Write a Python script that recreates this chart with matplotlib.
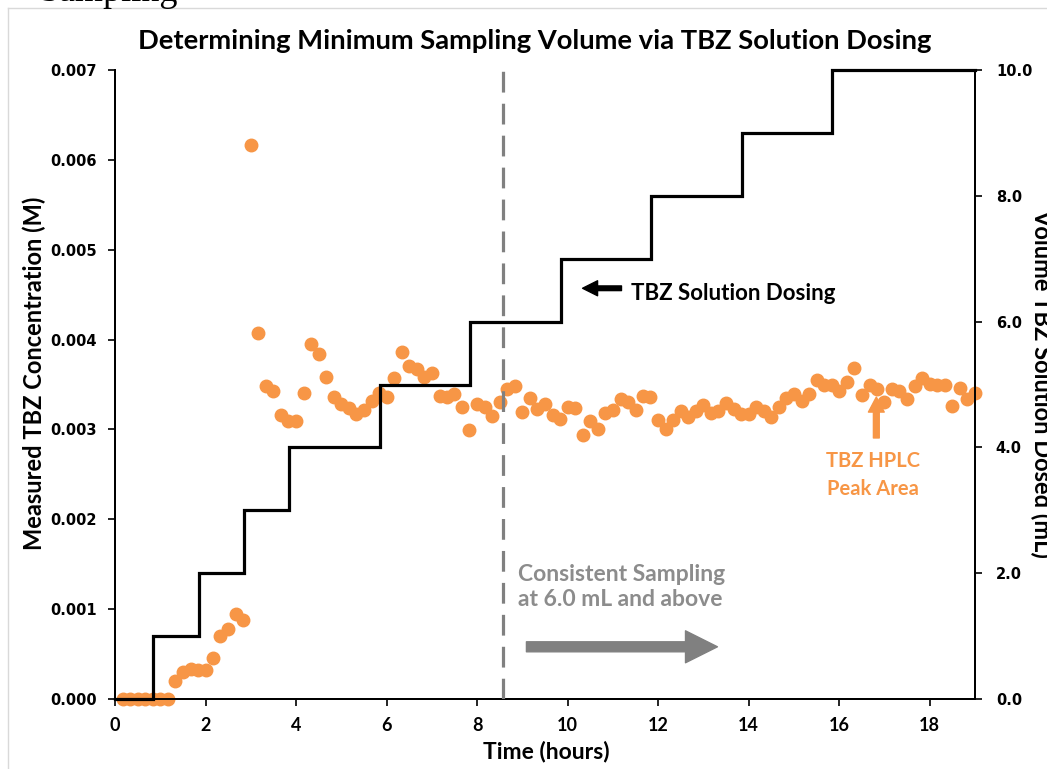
import matplotlib
matplotlib.use("Agg")
import matplotlib.pyplot as plt
from matplotlib.lines import Line2D
from matplotlib.ticker import FormatStrFormatter, MultipleLocator

# ---------------- data ----------------
time_h = [
    0.17, 0.33, 0.50, 0.67, 0.83, 1.00,
    1.17, 1.33, 1.50, 1.67, 1.83, 2.00,
    2.17, 2.33, 2.50, 2.67, 2.83, 3.00,
    3.17, 3.33, 3.50, 3.67, 3.83, 4.00,
    4.17, 4.33, 4.50, 4.67, 4.83, 5.00,
    5.17, 5.33, 5.50, 5.67, 5.83, 6.00,
    6.17, 6.33, 6.50, 6.67, 6.83, 7.00,
    7.17, 7.33, 7.50, 7.67, 7.83, 8.00,
    8.17, 8.33, 8.50, 8.67, 8.83, 9.00,
    9.17, 9.33, 9.50, 9.67, 9.83, 10.00,
    10.17, 10.33, 10.50, 10.67, 10.83, 11.00,
    11.17, 11.33, 11.50, 11.67, 11.83, 12.00,
    12.17, 12.33, 12.50, 12.67, 12.83, 13.00,
    13.17, 13.33, 13.50, 13.67, 13.83, 14.00,
    14.17, 14.33, 14.50, 14.67, 14.83, 15.00,
    15.17, 15.33, 15.50, 15.67, 15.83, 16.00,
    16.17, 16.33, 16.50, 16.67, 16.83, 17.00,
    17.17, 17.33, 17.50, 17.67, 17.83, 18.00,
    18.17, 18.33, 18.50, 18.67, 18.83, 19.00,
]
tbz_conc_M = [
    0.0, 0.0, 0.0, 0.0, 0.0, 0.0,
    0.0, 0.00020, 0.00030, 0.00033, 0.00032, 0.00032,
    0.00046, 0.00070, 0.00078, 0.00095, 0.00088, 0.00617,
    0.00407, 0.00348, 0.00343, 0.00316, 0.00309, 0.00309,
    0.00341, 0.00395, 0.00384, 0.00358, 0.00336, 0.00328,
    0.00324, 0.00317, 0.00322, 0.00332, 0.00340, 0.00336,
    0.00357, 0.00386, 0.00371, 0.00367, 0.00358, 0.00363,
    0.00337, 0.00336, 0.00339, 0.00325, 0.00299, 0.00328,
    0.00325, 0.00315, 0.00330, 0.00345, 0.00348, 0.00319,
    0.00335, 0.00323, 0.00328, 0.00316, 0.00312, 0.00325,
    0.00324, 0.00294, 0.00309, 0.00300, 0.00318, 0.00322,
    0.00334, 0.00331, 0.00322, 0.00337, 0.00336, 0.00311,
    0.00300, 0.00310, 0.00320, 0.00314, 0.00320, 0.00327,
    0.00318, 0.00321, 0.00329, 0.00323, 0.00317, 0.00317,
    0.00325, 0.00321, 0.00314, 0.00325, 0.00335, 0.00339,
    0.00332, 0.00339, 0.00355, 0.00350, 0.00350, 0.00343,
    0.00353, 0.00368, 0.00338, 0.00349, 0.00345, 0.00331,
    0.00345, 0.00343, 0.00334, 0.00348, 0.00357, 0.00351,
    0.00349, 0.00349, 0.00326, 0.00346, 0.00334, 0.00340,
]
dose_time_h = [0.0, 0.85, 1.85, 2.85, 3.85, 5.85, 7.85, 9.85, 11.85, 13.85, 15.85, 19.0]
dose_volume_mL = [0, 1, 2, 3, 4, 5, 6, 7, 8, 9, 10, 10]
consistent_start_h = 8.57

x_ticks = [0, 2, 4, 6, 8, 10, 12, 14, 16, 18]

# ---------------- styling ----------------
ORANGE = "#F79646"
GRAY = "#8C8C8C"
BOLD_FAM = ["Lato", "DejaVu Sans"]
NARROW_FAM = ["Liberation Sans Narrow", "Lato", "DejaVu Sans"]
TICK_FAM = ["DejaVu Sans"]

fig = plt.figure(figsize=(10.47, 7.69), dpi=100)
W, H = 1047, 769
ax = fig.add_axes([115 / W, 1 - 699 / H, (975 - 115) / W, (699 - 70) / H])
ax2 = ax.twinx()

# scatter (primary axis)
ax.plot(time_h, tbz_conc_M, linestyle="none", marker="o", markersize=9,
        markerfacecolor=ORANGE, markeredgecolor=ORANGE, clip_on=False, zorder=3)

# step (secondary axis)
ax2.step(dose_time_h, dose_volume_mL, where="post", color="black", lw=2.3,
         solid_joinstyle="miter", clip_on=False, zorder=4)
ax2.axvline(consistent_start_h, color="#808080", lw=2.3, dashes=(6.5, 3.5), zorder=5)

ax.set_xlim(0, 19)
ax.set_ylim(0, 0.007)
ax2.set_ylim(0, 10)
ax.set_xticks(x_ticks)
ax.yaxis.set_major_locator(MultipleLocator(0.001))
ax.yaxis.set_major_formatter(FormatStrFormatter("%.3f"))
ax2.yaxis.set_major_locator(MultipleLocator(2))
ax2.yaxis.set_major_formatter(FormatStrFormatter("%.1f"))

for a in (ax, ax2):
    a.spines["top"].set_visible(False)
    for s in ("left", "right", "bottom"):
        a.spines[s].set_linewidth(1.4)
        a.spines[s].set_color("black")
ax.tick_params(axis="both", direction="out", length=5, width=1.2, colors="black")
ax2.tick_params(axis="y", direction="out", length=5, width=1.2, colors="black")
ax.tick_params(axis="x", pad=8)
ax.tick_params(axis="y", pad=8)
ax2.tick_params(axis="y", pad=10)

for lab in ax.get_yticklabels():
    lab.set_fontfamily(TICK_FAM)
    lab.set_fontweight("bold")
    lab.set_fontsize(10.5)
for lab in ax2.get_yticklabels():
    lab.set_fontfamily(TICK_FAM)
    lab.set_fontweight("bold")
    lab.set_fontsize(10.5)
for lab in ax.get_xticklabels():
    lab.set_fontfamily(NARROW_FAM)
    lab.set_fontweight("bold")
    lab.set_fontsize(13)

# axis labels
fig.text(546 / W, 1 - 752 / H, "Time (hours)", ha="center", va="center",
         fontsize=16.5, fontweight="bold", family=NARROW_FAM)
fig.text(34 / W, 1 - 373 / H, "Measured TBZ Concentration (M)", ha="center", va="center",
         rotation=90, fontsize=17, fontweight="bold", family=NARROW_FAM)
fig.text(1042 / W, 1 - 383 / H, "Volume TBZ Solution Dosed (mL)", ha="center", va="center",
         rotation=270, fontsize=17, fontweight="bold", family=NARROW_FAM)

# title
fig.text(535 / W, 1 - 41 / H, "Determining Minimum Sampling Volume via TBZ Solution Dosing",
         ha="center", va="center", fontsize=19.7, fontweight="bold", family=BOLD_FAM)

# cut-off document text above the chart frame
fig.text(40 / W, 1 - 1 / H, "Sampling", ha="left", va="baseline", fontsize=26,
         family=["Liberation Serif", "DejaVu Serif"], color="black")

# chart frame
fig.add_artist(Line2D([8 / W, 8 / W], [0, 1 - 8 / H], transform=fig.transFigure,
                      color="#D9D9D9", lw=1.0))
fig.add_artist(Line2D([8 / W, 1], [1 - 8 / H, 1 - 8 / H], transform=fig.transFigure,
                      color="#D9D9D9", lw=1.0))

# annotations (secondary-axis coordinates: volume)
ax2.annotate("", xy=(10.33, 6.53), xytext=(11.19, 6.53),
             arrowprops=dict(arrowstyle="simple,head_length=0.9,head_width=0.9,tail_width=0.28",
                             mutation_scale=12, color="black", shrinkA=0, shrinkB=0))
ax2.text(11.41, 6.45, "TBZ Solution Dosing", ha="left", va="center",
         fontsize=16, fontweight="bold", family=BOLD_FAM, color="black")

ax2.annotate("", xy=(16.82, 4.80), xytext=(16.82, 4.15),
             arrowprops=dict(arrowstyle="simple,head_length=0.9,head_width=0.95,tail_width=0.35",
                             mutation_scale=12, color=ORANGE, shrinkA=0, shrinkB=0))
ax2.text(16.75, 3.56, "TBZ HPLC\nPeak Area", ha="center", va="center",
         fontsize=14.5, fontweight="bold", family=BOLD_FAM, color=ORANGE, linespacing=1.45)

ax2.text(8.90, 1.78, "Consistent Sampling\nat 6.0 mL and above", ha="left", va="center",
         fontsize=16.5, fontweight="bold", family=BOLD_FAM, color=GRAY, linespacing=1.2)
ax2.annotate("", xy=(13.31, 0.83), xytext=(9.09, 0.83),
             arrowprops=dict(arrowstyle="simple,head_length=1.15,head_width=1.15,tail_width=0.36",
                             mutation_scale=20, color="#808080", shrinkA=0, shrinkB=0))

fig.savefig("out.png", dpi=100)
